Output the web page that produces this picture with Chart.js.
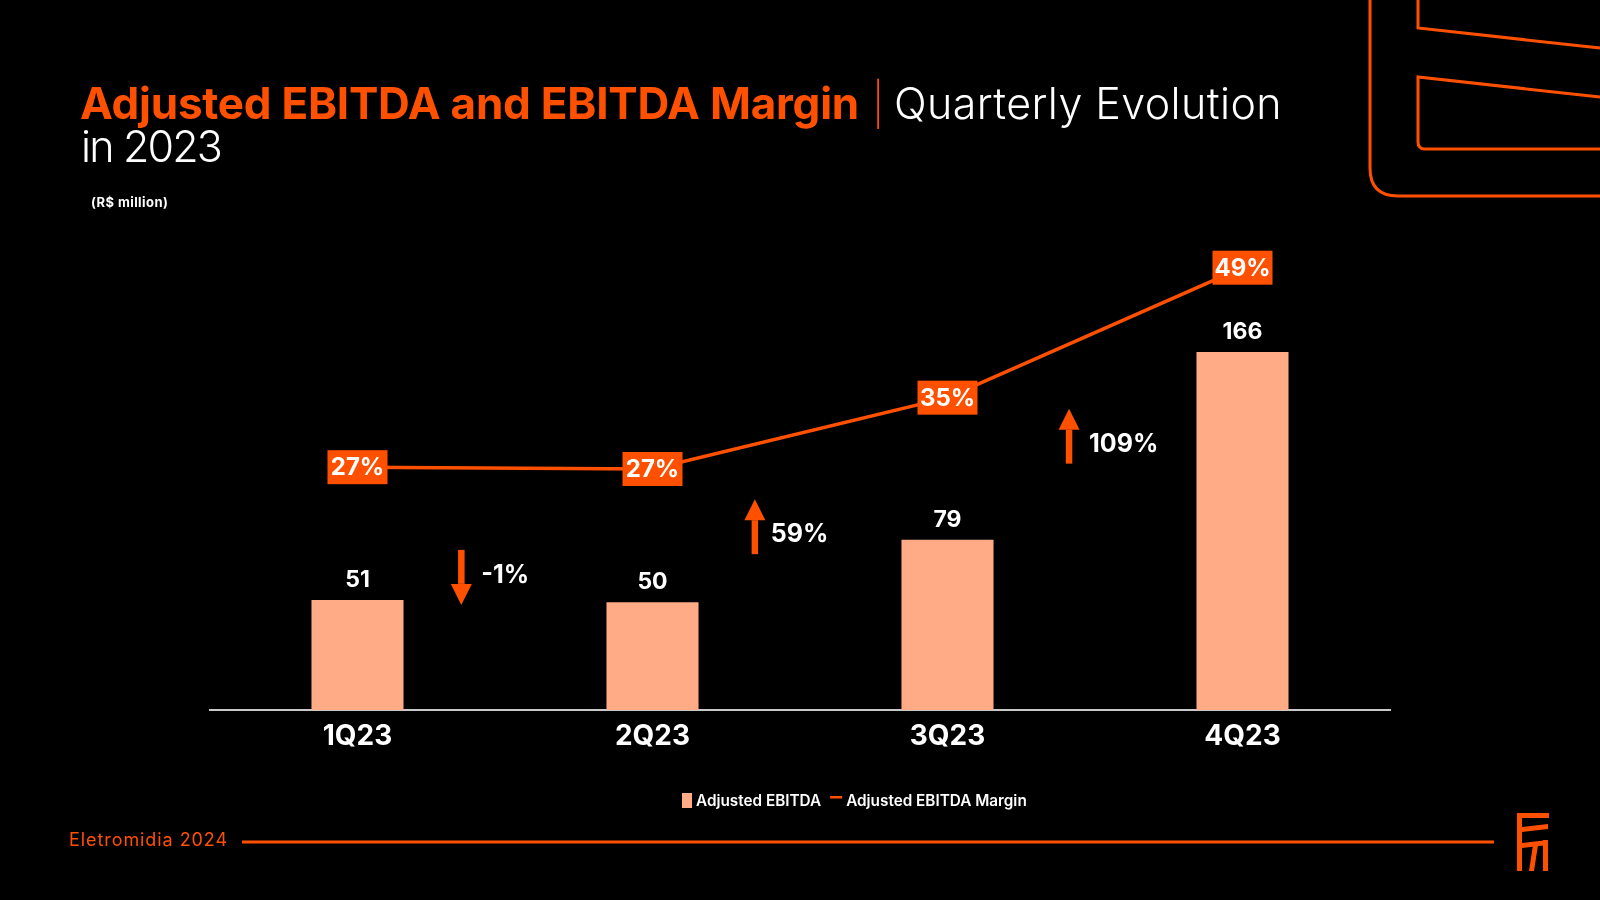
<!DOCTYPE html>
<html>
<head>
<meta charset="utf-8">
<script src="https://cdn.jsdelivr.net/npm/chart.js@4.4.1/dist/chart.umd.min.js"></script>
<style>
  html, body { margin: 0; padding: 0; background: #000; }
  #wrap { position: relative; width: 1600px; height: 900px; overflow: hidden; background: #000; font-family: Inter, sans-serif; }
  #chart { position: absolute; left: 0; top: 0; }
  #deco { position: absolute; left: 0; top: 0; pointer-events: none; }
  .t { position: absolute; white-space: nowrap; line-height: 1; }
</style>
</head>
<body>
<div id="wrap">
  <canvas id="chart" width="1600" height="900"></canvas>
  <svg id="deco" width="1600" height="900">
    <g fill="none" stroke="#ff5000" stroke-width="3">
      <path d="M1370 0 V168 Q1370 196 1398 196 H1600" />
      <path d="M1418 0 V28 L1600 48" />
      <path d="M1600 97 L1418 77 V142 Q1418 149 1425 149 H1600" />
      <line x1="242" y1="842" x2="1494" y2="842" />
    </g>
    <g fill="#ff5000">
      <rect x="1517" y="813" width="5" height="58" />
      <rect x="1517" y="813" width="32" height="5" />
      <polygon points="1522,827 1548,824 1548,829 1522,832" />
      <polygon points="1522,843 1548,840 1548,845 1522,848" />
      <polygon points="1533,845 1538,845 1534,871 1529,871" />
      <rect x="1543" y="840" width="5" height="31" />
    </g>
  </svg>
  <span class="t" id="tBold" style="left:80px;font-size:44px;font-weight:700;color:#ff5000" data-w="779" data-b="119.5">Adjusted EBITDA and EBITDA Margin</span>
  <span class="t" id="tPipe" style="left:872px;font-size:42px;font-weight:200;color:#ff5000" data-b="119.5">|</span>
  <span class="t" id="tLight" style="left:894px;font-size:43px;font-weight:300;color:#fff" data-w="388" data-b="119.5">Quarterly Evolution</span>
  <span class="t" id="tLine2" style="left:81px;font-size:43px;font-weight:300;color:#fff" data-w="140" data-b="162">in 2023</span>
  <span class="t" id="unit" style="left:91px;font-size:13px;font-weight:700;color:#fff" data-w="77" data-b="207">(R$ million)</span>
  <span class="t" id="foot" style="left:69px;font-size:18px;font-weight:400;color:#ff5000" data-w="159" data-b="847">Eletromidia 2024</span>
</div>
<script>
// values
const quarters = ['1Q23', '2Q23', '3Q23', '4Q23'];
const ebitda = [51, 50, 79, 166];
const margin = [26.9, 26.7, 34.6, 49.0];
const marginLabels = ['27%', '27%', '35%', '49%'];
const growthLabels = ['-1%', '59%', '109%'];
const growthDir = [-1, 1, 1];

const ORANGE = '#ff5000';
const PEACH = '#ffab86';

// place the html texts on their baselines and stretch to the slide widths
document.querySelectorAll('.t').forEach(el => {
  const fs = parseFloat(el.style.fontSize);
  el.style.top = (parseFloat(el.dataset.b) - 0.864 * fs) + 'px';
  if (el.dataset.w) {
    const w = el.getBoundingClientRect().width;
    const n = el.textContent.length;
    el.style.letterSpacing = ((parseFloat(el.dataset.w) - w) / n) + 'px';
  }
});

const extras = {
  id: 'extras',
  afterDatasetsDraw(chart) {
    const ctx = chart.ctx;
    const x = chart.scales.x;
    const y = chart.scales.y;
    ctx.save();
    ctx.textAlign = 'center';
    ctx.textBaseline = 'middle';

    // bar values
    ctx.fillStyle = '#fff';
    ctx.font = 'bold 23px Inter';
    chart.getDatasetMeta(1).data.forEach((bar, i) => {
      ctx.fillText(String(ebitda[i]), bar.x, bar.y - 20);
    });

    // margin boxes
    chart.getDatasetMeta(0).data.forEach((pt, i) => {
      ctx.fillStyle = ORANGE;
      ctx.fillRect(pt.x - 30, pt.y - 17, 60, 34);
      ctx.fillStyle = '#fff';
      ctx.font = 'bold 24px Inter';
      ctx.fillText(marginLabels[i], pt.x, pt.y + 1);
    });

    // growth arrows between the bars
    const step = x.getPixelForValue(1) - x.getPixelForValue(0);
    const offs = [0.352, 0.347, 0.412];
    const anchor = [61.5, 85, 127];
    const textGap = [20, 16, 20];
    growthLabels.forEach((lab, i) => {
      const ax = x.getPixelForValue(i) + offs[i] * step;
      const ay = y.getPixelForValue(anchor[i]);
      const d = growthDir[i];
      const tip = ay - d * 27.5, tail = ay + d * 27.5;
      const headBase = tip + d * 21;
      ctx.fillStyle = ORANGE;
      ctx.fillRect(ax - 3.25, Math.min(tail, headBase), 6.5, Math.abs(headBase - tail));
      ctx.beginPath();
      ctx.moveTo(ax, tip);
      ctx.lineTo(ax - 10.5, headBase);
      ctx.lineTo(ax + 10.5, headBase);
      ctx.closePath();
      ctx.fill();
      ctx.fillStyle = '#fff';
      ctx.font = 'bold 25px Inter';
      ctx.textAlign = 'left';
      ctx.fillText(lab, ax + textGap[i], ay + 3 + d * 5);
      ctx.textAlign = 'center';
    });
    ctx.restore();
  },
  afterDraw(chart) {
    // legend
    const ctx = chart.ctx;
    const ds = chart.data.datasets;
    ctx.save();
    ctx.font = '600 15.3px Inter';
    ctx.textBaseline = 'middle';
    ctx.textAlign = 'left';
    let lx = 682;
    const ly = 801;
    ctx.fillStyle = ds[1].backgroundColor;
    ctx.fillRect(lx, ly - 8, 10, 15);
    lx += 14;
    ctx.fillStyle = '#fff';
    ctx.fillText(ds[1].label, lx, ly);
    lx += ctx.measureText(ds[1].label).width + 9;
    ctx.fillStyle = ds[0].borderColor;
    ctx.fillRect(lx, ly - 5, 12, 2.5);
    lx += 16;
    ctx.fillStyle = '#fff';
    ctx.fillText(ds[0].label, lx, ly);
    ctx.restore();
  }
};

new Chart(document.getElementById('chart'), {
  data: {
    labels: quarters,
    datasets: [
      {
        type: 'line',
        label: 'Adjusted EBITDA Margin',
        data: margin,
        yAxisID: 'y2',
        borderColor: ORANGE,
        backgroundColor: ORANGE,
        borderWidth: 3.5,
        pointRadius: 0,
        tension: 0,
        order: 0
      },
      {
        type: 'bar',
        label: 'Adjusted EBITDA',
        data: ebitda,
        yAxisID: 'y',
        backgroundColor: PEACH,
        categoryPercentage: 1,
        barPercentage: 0.312,
        order: 1
      }
    ]
  },
  options: {
    responsive: false,
    animation: false,
    layout: { padding: { top: 200, left: 210, right: 210, bottom: 110 } },
    plugins: { legend: { display: false }, tooltip: { enabled: false } },
    scales: {
      x: {
        grid: { display: false, drawTicks: false },
        border: { display: true, color: '#c8c8c8', width: 2 },
        ticks: { color: '#fff', font: { family: 'Inter', size: 28, weight: 'bold' }, padding: 10 },
        afterFit: s => { s.height = 80; }
      },
      y: { display: false, min: 0, max: 236.5 },
      y2: { display: false, position: 'right', min: 0, max: 56.5 }
    }
  },
  plugins: [extras]
});
</script>
</body>
</html>
